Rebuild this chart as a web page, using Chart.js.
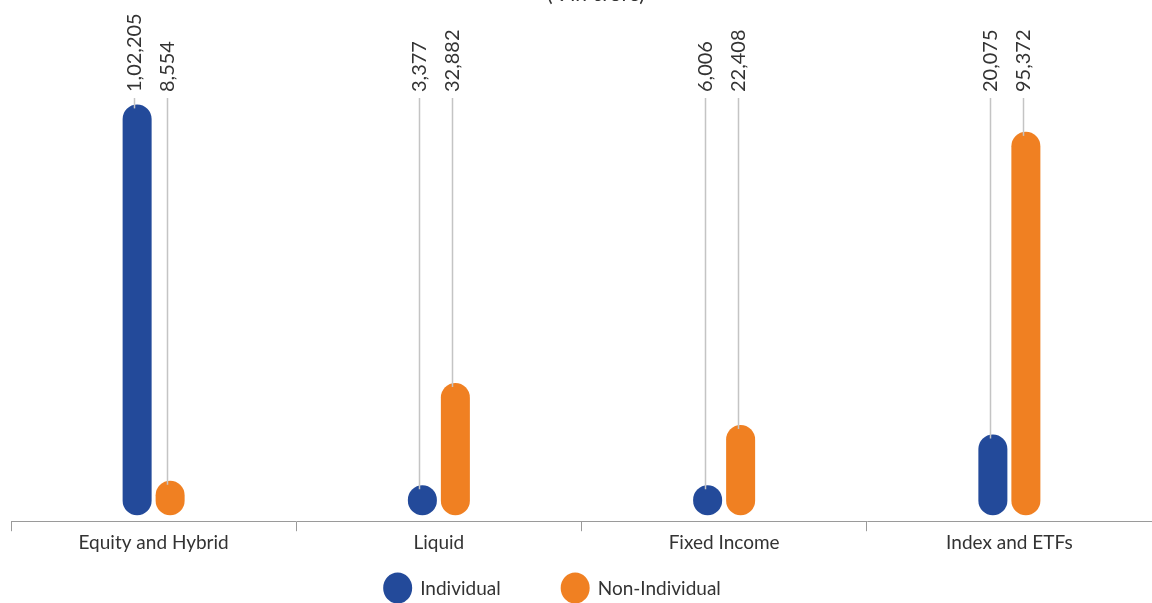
<!DOCTYPE html>
<html>
<head>
<meta charset="utf-8">
<script src="https://cdn.jsdelivr.net/npm/chart.js@4.4.0/dist/chart.umd.min.js"></script>
<style>
  html, body { margin: 0; padding: 0; background: #fff; }
  #wrap { width: 1152px; height: 603px; position: relative; }
</style>
</head>
<body>
<div id="wrap"><canvas id="aumChart"></canvas></div>
<script>
// chart data
const categories = ['Equity and Hybrid', 'Liquid', 'Fixed Income', 'Index and ETFs'];
const seriesNames = ['Individual', 'Non-Individual'];
const individual = [102205, 3377, 6006, 20075];
const nonIndividual = [8554, 32882, 22408, 95372];
const chartTitle = '(\u20B9 in crore)';

const BLUE = '#234a9a';
const ORANGE = '#f08022';
const TEXT = '#333';
const FONT = 'Lato, "Open Sans", sans-serif';

// indian grouping, 102205 -> 1,02,205
const fmt = v => Number(v).toLocaleString('en-IN');

// value labels with leader lines above the bars
const valueLabels = {
  id: 'valueLabels',
  afterDatasetsDraw(chart) {
    const ctx = chart.ctx;
    const top = chart.chartArea.top;
    ctx.save();
    chart.data.datasets.forEach((ds, di) => {
      const meta = chart.getDatasetMeta(di);
      meta.data.forEach((bar, i) => {
        const x = Math.round(bar.x) - 2.5;
        ctx.strokeStyle = '#c4c4c4';
        ctx.lineWidth = 1.5;
        ctx.beginPath();
        ctx.moveTo(x, top - 2);
        ctx.lineTo(x, bar.y + 4);
        ctx.stroke();

        ctx.translate(x, top - 8);
        ctx.rotate(-Math.PI / 2);
        ctx.fillStyle = TEXT;
        ctx.font = '20px ' + FONT;
        ctx.textAlign = 'left';
        ctx.textBaseline = 'middle';
        ctx.fillText(fmt(ds.data[i]), 0, 0);
        ctx.setTransform(1, 0, 0, 1, 0, 0);
      });
    });
    ctx.restore();
  }
};

// title is cut off at the top edge in the original
const topTitle = {
  id: 'topTitle',
  afterDraw(chart) {
    const ctx = chart.ctx;
    ctx.save();
    ctx.fillStyle = TEXT;
    ctx.font = '21px ' + FONT;
    ctx.textAlign = 'center';
    ctx.textBaseline = 'alphabetic';
    ctx.fillText(chartTitle, 596, 1);
    ctx.restore();
  }
};

// legend: big round markers, drawn under the axis
const bottomLegend = {
  id: 'bottomLegend',
  afterDraw(chart) {
    const ctx = chart.ctx;
    const y = 588;
    const gap = 60;
    ctx.save();
    ctx.font = '19px ' + FONT;
    const items = chart.data.datasets.map(ds => ({
      text: ds.label,
      color: ds.backgroundColor,
      w: 37 + ctx.measureText(ds.label).width
    }));
    const total = items.reduce((s, it) => s + it.w, 0) + gap * (items.length - 1);
    let x = 552 - total / 2;
    items.forEach(it => {
      ctx.fillStyle = it.color;
      ctx.beginPath();
      ctx.ellipse(x + 14.5, y, 14.5, 15.5, 0, 0, Math.PI * 2);
      ctx.fill();
      ctx.fillStyle = TEXT;
      ctx.textAlign = 'left';
      ctx.textBaseline = 'middle';
      ctx.fillText(it.text, x + 37, y + 1);
      x += it.w + gap;
    });
    ctx.restore();
  }
};

const data = {
  labels: categories,
  datasets: [{
    label: seriesNames[0],
    data: individual,
    backgroundColor: BLUE
  }, {
    label: seriesNames[1],
    data: nonIndividual,
    backgroundColor: ORANGE
  }]
};

const config = {
  type: 'bar',
  data: data,
  options: {
    responsive: false,
    animation: false,
    layout: { padding: { top: 100, left: 11, right: 0, bottom: 49 } },
    datasets: {
      bar: {
        categoryPercentage: 0.2314,
        barPercentage: 0.879,
        borderRadius: 15,
        borderSkipped: false,
        minBarLength: 30
      }
    },
    scales: {
      x: {
        grid: {
          offset: true,
          drawOnChartArea: false,
          tickLength: 10,
          color: '#9a9a9a'
        },
        border: { color: '#9a9a9a', width: 1 },
        ticks: {
          color: TEXT,
          font: { family: FONT, size: 19 },
          padding: 0,
          maxRotation: 0
        }
      },
      y: {
        display: false,
        min: -1500,
        max: 103300
      }
    },
    plugins: {
      tooltip: { enabled: false },
      legend: { display: false }
    }
  },
  plugins: [valueLabels, topTitle, bottomLegend]
};

const canvas = document.getElementById('aumChart');
canvas.width = 1152;
canvas.height = 603;
const aumChart = new Chart(canvas, config);
</script>
</body>
</html>
